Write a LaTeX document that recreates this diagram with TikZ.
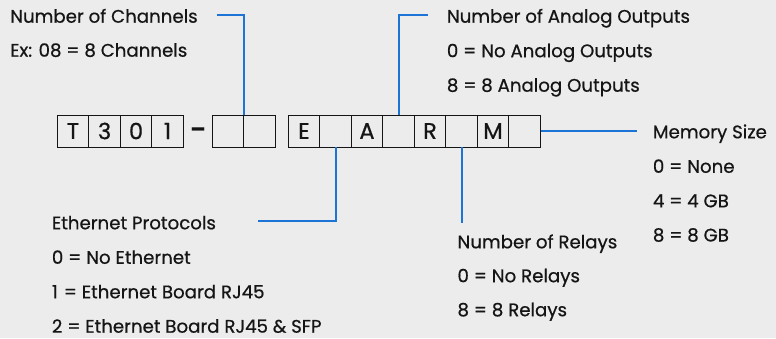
\documentclass[tikz,border=0pt]{standalone}
\usepackage{fontspec}
\setmainfont{Poppins}[FakeBold=0.6]
\definecolor{bg}{HTML}{ECECEC}
\definecolor{lblue}{HTML}{1C74D6}
\definecolor{ink}{HTML}{151515}
\begin{document}
\begin{tikzpicture}[x=1pt,y=-1pt,
  lbl/.style={anchor=base west,inner sep=0pt,text=ink,font=\fontsize{18.2}{20}\selectfont},
  cell/.style={draw=ink,line width=0.9pt,minimum width=31.5pt,minimum height=32pt,inner sep=0pt,text=ink,font=\fontsize{22.5}{24}\selectfont},
  conn/.style={draw=lblue,line width=2pt}]
\fill[bg] (0,0) rectangle (776,338);
\useasboundingbox (0,0) rectangle (776,338);
% group 1
\node[cell] (g1a) at (73.05,131) {T};
\node[cell] (g1b) at (104.55,131) {3};
\node[cell] (g1c) at (136.05,131) {0};
\node[cell] (g1d) at (167.55,131) {1};
\node[inner sep=0pt,text=ink,font=\fontsize{22}{24}\selectfont\bfseries] (dash) at (198,132) {–};
% group 2
\node[cell] (g2a) at (227.75,131) {};
\node[cell] (g2b) at (259.25,131) {};
% group 3
\node[cell] (g3a) at (304,131) {E};
\node[cell] (g3b) at (335.5,131) {};
\node[cell] (g3c) at (367,131) {A};
\node[cell] (g3d) at (398.5,131) {};
\node[cell] (g3e) at (430,131) {R};
\node[cell] (g3f) at (461.5,131) {};
\node[cell] (g3g) at (493,131) {M};
\node[cell] (g3h) at (524.5,131) {};
% labels
\node[lbl] (chan) at (10,22.7) {Number of Channels};
\node[lbl] (chan1) at (10,56.7) {Ex: 08 = 8 Channels};
\node[lbl] (ana) at (446.7,22.7) {Number of Analog Outputs};
\node[lbl] (ana1) at (446.7,57.2) {0 = No Analog Outputs};
\node[lbl] (ana2) at (446.7,91.7) {8 = 8 Analog Outputs};
\node[lbl] (eth) at (51.7,229.3) {Ethernet Protocols};
\node[lbl] (eth1) at (51.7,263.8) {0 = No Ethernet};
\node[lbl] (eth2) at (51.7,298.3) {1\,\,= Ethernet Board RJ45};
\node[lbl] (eth3) at (51.7,332.7) {2 = Ethernet Board RJ45 \& SFP};
\node[lbl] (mem) at (652.7,138.3) {Memory Size};
\node[lbl] (mem1) at (652.7,172.8) {0 = None};
\node[lbl] (mem2) at (652.7,207.3) {4 = 4 GB};
\node[lbl] (mem3) at (652.7,241.5) {8 = 8 GB};
\node[lbl] (rel) at (457.3,248.3) {Number of Relays};
\node[lbl] (rel1) at (457.3,282.2) {0 = No Relays};
\node[lbl] (rel2) at (457.3,316.2) {8 = 8 Relays};
% connector ends
\coordinate (c1) at (216.7,15);
\coordinate (c2) at (428.3,15);
\coordinate (c3) at (258.3,221);
\coordinate (c4) at (461.5,223.3);
\coordinate (c5) at (636.7,131);
\draw[conn] (c1) -| (g2a.north east);
\draw[conn] (g3d.north) |- (c2);
\draw[conn] (g3b.south) |- (c3);
\draw[conn] (g3f.south) -- (c4);
\draw[conn] (g3h.east) -- (c5);
\end{tikzpicture}
\end{document}
